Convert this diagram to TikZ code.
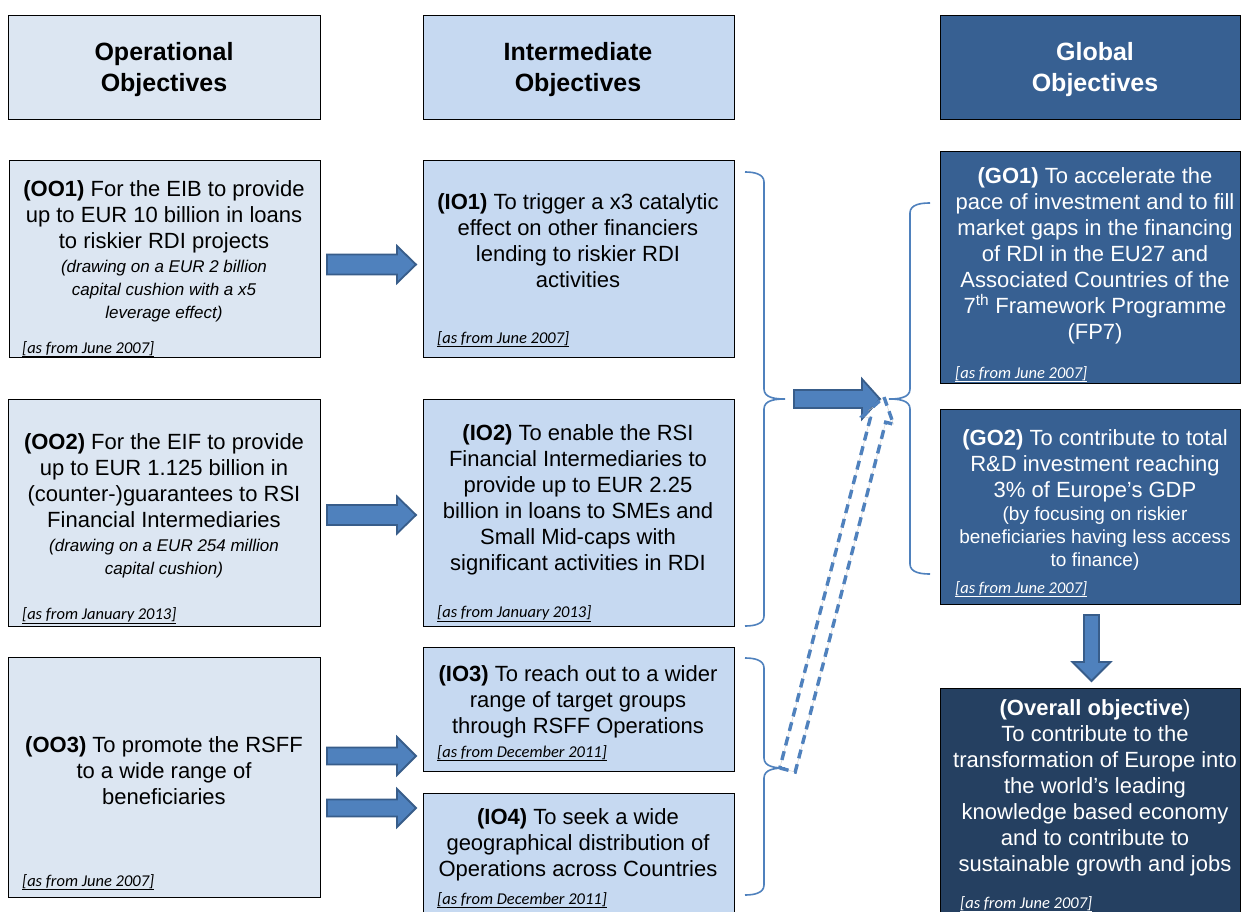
\documentclass[tikz,border=0pt]{standalone}
\usepackage{fontspec}
\setmainfont{Liberation Sans}
\newfontfamily\datefont{Carlito}
\usetikzlibrary{calc}
\definecolor{ooFill}{HTML}{DCE6F2}
\definecolor{ioFill}{HTML}{C6D9F1}
\definecolor{goFill}{HTML}{376092}
\definecolor{ovFill}{HTML}{254061}
\definecolor{arrFill}{HTML}{4F81BD}
\definecolor{arrLine}{HTML}{385D8A}
\definecolor{braceCol}{HTML}{4F81BD}
\newcommand\rarrow[6]{% x0,x1,y,shafthalf,headhalf,headlen
  \filldraw[barrow] (#1,#3-#4) -- (#2-#6,#3-#4) -- (#2-#6,#3-#5) -- (#2,#3) -- (#2-#6,#3+#5) -- (#2-#6,#3+#4) -- (#1,#3+#4) -- cycle;}
\newcommand\darrow[6]{% x,y0,y1,shafthalf,headhalf,headlen
  \filldraw[barrow] (#1-#4,#2) -- (#1-#4,#3-#6) -- (#1-#5,#3-#6) -- (#1,#3) -- (#1+#5,#3-#6) -- (#1+#4,#3-#6) -- (#1+#4,#2) -- cycle;}
\begin{document}
\begin{tikzpicture}[x=1pt,y=-1pt,
  box/.style={draw=black, line width=1.3pt, inner sep=0pt, anchor=north west, rectangle},
  oobox/.style={box, fill=ooFill},
  iobox/.style={box, fill=ioFill},
  gobox/.style={box, fill=goFill},
  ovbox/.style={box, fill=ovFill},
  hdr/.style={align=center, inner sep=0pt, anchor=north, font=\fontsize{25}{31}\selectfont\bfseries},
  mtxt/.style={align=center, inner sep=0pt, anchor=north, font=\fontsize{22}{26}\selectfont},
  itxt/.style={align=center, inner sep=0pt, anchor=north, font=\fontsize{17}{23}\selectfont\itshape},
  stxt/.style={align=center, inner sep=0pt, anchor=north, font=\fontsize{19}{23}\selectfont},
  datetxt/.style={inner sep=0pt, anchor=base west, font=\fontsize{16.5}{19}\selectfont\datefont\itshape},
  barrow/.style={fill=arrFill, draw=arrLine, line width=1.8pt, line join=miter},
  brace/.style={draw=braceCol, line width=1.6pt},
  dasharrow/.style={draw=arrFill, line width=3.4pt, dash pattern=on 9pt off 6pt, line join=miter},
]
\useasboundingbox (0,0) rectangle (1242,912);
\clip (0,0) rectangle (1242,912);
\fill[white] (0,0) rectangle (1242,912);

% headers
\node[oobox, minimum width=312pt, minimum height=104pt] (HOO) at (8,15) {};
\node[iobox, minimum width=311pt, minimum height=104pt] (HIO) at (423,15) {};
\node[gobox, minimum width=300pt, minimum height=104pt] (HGO) at (940,15) {};
\node[hdr] (HOOt) at (164,42.5) {Operational\\Objectives};
\node[hdr] (HIOt) at (578,42.5) {Intermediate\\Objectives};
\node[hdr, text=white] (HGOt) at (1095,42.5) {Global\\Objectives};

% operational objectives
\node[oobox, minimum width=311pt, minimum height=197pt] (OO1) at (9,160) {};
\node[mtxt] (OO1t) at (164,180) {\textbf{(OO1)} For the EIB to provide\\up to EUR 10 billion in loans\\to riskier RDI projects};
\node[itxt] (OO1i) at (164,259.7) {(drawing on a EUR 2 billion\\capital cushion with a x5\\leverage effect)};
\node[datetxt] (OO1d) at (22,353) {\underline{[as from June 2007]}};

\node[oobox, minimum width=312pt, minimum height=227pt] (OO2) at (8,399) {};
\node[mtxt] (OO2t) at (164,433) {\textbf{(OO2)} For the EIF to provide\\up to EUR 1.125 billion in\\(counter-)guarantees to RSI\\Financial Intermediaries};
\node[itxt] (OO2i) at (164,538.7) {(drawing on a EUR 254 million\\capital cushion)};
\node[datetxt] (OO2d) at (22,619) {\underline{[as from January 2013]}};

\node[oobox, minimum width=312pt, minimum height=240pt] (OO3) at (8,657) {};
\node[mtxt] (OO3t) at (164,736) {\textbf{(OO3)} To promote the RSFF\\to a wide range of\\beneficiaries};
\node[datetxt] (OO3d) at (22,886) {\underline{[as from June 2007]}};

% intermediate objectives
\node[iobox, minimum width=311pt, minimum height=197pt] (IO1) at (423,160) {};
\node[mtxt] (IO1t) at (578,193) {\textbf{(IO1)} To trigger a x3 catalytic\\effect on other financiers\\lending to riskier RDI\\activities};
\node[datetxt] (IO1d) at (437,343) {\underline{[as from June 2007]}};

\node[iobox, minimum width=311pt, minimum height=227pt] (IO2) at (423,399) {};
\node[mtxt] (IO2t) at (578,424) {\textbf{(IO2)} To enable the RSI\\Financial Intermediaries to\\provide up to EUR 2.25\\billion in loans to SMEs and\\Small Mid-caps with\\significant activities in RDI};
\node[datetxt] (IO2d) at (437,617) {\underline{[as from January 2013]}};

\node[iobox, minimum width=311pt, minimum height=124pt] (IO3) at (423,647) {};
\node[mtxt] (IO3t) at (578,665) {\textbf{(IO3)} To reach out to a wider\\range of target groups\\through RSFF Operations};
\node[datetxt] (IO3d) at (437,757) {\underline{[as from December 2011]}};

\node[iobox, minimum width=311pt, minimum height=130pt] (IO4) at (423,793) {};
\node[mtxt] (IO4t) at (578,808) {\textbf{(IO4)} To seek a wide\\geographical distribution of\\Operations across Countries};
\node[datetxt] (IO4d) at (437,904) {\underline{[as from December 2011]}};

% global objectives
\node[gobox, minimum width=300pt, minimum height=232pt] (GO1) at (940,151) {};
\node[mtxt, text=white] (GO1t) at (1095,167) {\textbf{(GO1)} To accelerate the\\pace of investment and to fill\\market gaps in the financing\\of RDI in the EU27 and\\Associated Countries of the\\7\textsuperscript{th} Framework Programme\\(FP7)};
\node[datetxt, text=white] (GO1d) at (955,378) {\underline{[as from June 2007]}};

\node[gobox, minimum width=300pt, minimum height=195pt] (GO2) at (940,409) {};
\node[mtxt, text=white] (GO2t) at (1095,429) {\textbf{(GO2)} To contribute to total\\R\&D investment reaching\\3\% of Europe’s GDP};
\node[stxt, text=white] (GO2s) at (1095,507) {(by focusing on riskier\\beneficiaries having less access\\to finance)};
\node[datetxt, text=white] (GO2d) at (955,593) {\underline{[as from June 2007]}};

\node[ovbox, minimum width=300pt, minimum height=240pt] (OV) at (940,688) {};
\node[mtxt, text=white] (OVt) at (1095,699) {\textbf{(Overall objective})\\To contribute to the\\transformation of Europe into\\the world’s leading\\knowledge based economy\\and to contribute to\\sustainable growth and jobs};
\node[datetxt, text=white] (OVd) at (960,908) {\underline{[as from June 2007]}};

% block arrows
\rarrow{327}{416}{264.5}{10}{18.5}{19}
\rarrow{327}{416}{515}{10}{18.5}{19}
\rarrow{327}{416}{756}{8.5}{19}{19}
\rarrow{327}{416}{808}{8.5}{19}{19}
\rarrow{794}{880}{399}{9}{20}{18}
\darrow{1091.5}{615}{681}{7.5}{19}{19}

% braces
\draw[brace] (745,172) to[out=0,in=90] (764,182) -- (764,389) to[out=-90,in=180] (785,399)
             to[out=180,in=90] (764,409) -- (764,616) to[out=-90,in=0] (745,626);
\draw[brace] (745,658) to[out=0,in=90] (764,668) -- (764,758) to[out=-90,in=180] (785,768)
             to[out=180,in=90] (764,778) -- (764,885) to[out=-90,in=0] (745,895);
\draw[brace] (930,203) to[out=180,in=90] (910,213) -- (910,389) to[out=-90,in=0] (889,399)
             to[out=0,in=90] (910,409) -- (910,564) to[out=-90,in=180] (930,574);

% dashed hollow arrow
\coordinate (DA1) at (779.8,768.0);
\coordinate (DA2) at (795.2,772.0);
\coordinate (DA3) at (885.7,422.2);
\coordinate (DA4) at (893.5,424.2);
\coordinate (DA5) at (884,397);
\coordinate (DA6) at (862.5,416.2);
\coordinate (DA7) at (870.3,418.2);
\draw[gray!40, line width=0.4pt] (DA1) -- (DA2) -- (DA3) -- (DA4) -- (DA5) -- (DA6) -- (DA7) -- cycle;
\draw[dasharrow] (DA1) -- (DA2) -- (DA3) -- (DA4) -- (DA5) -- (DA6) -- (DA7) -- cycle;
\end{tikzpicture}
\end{document}
